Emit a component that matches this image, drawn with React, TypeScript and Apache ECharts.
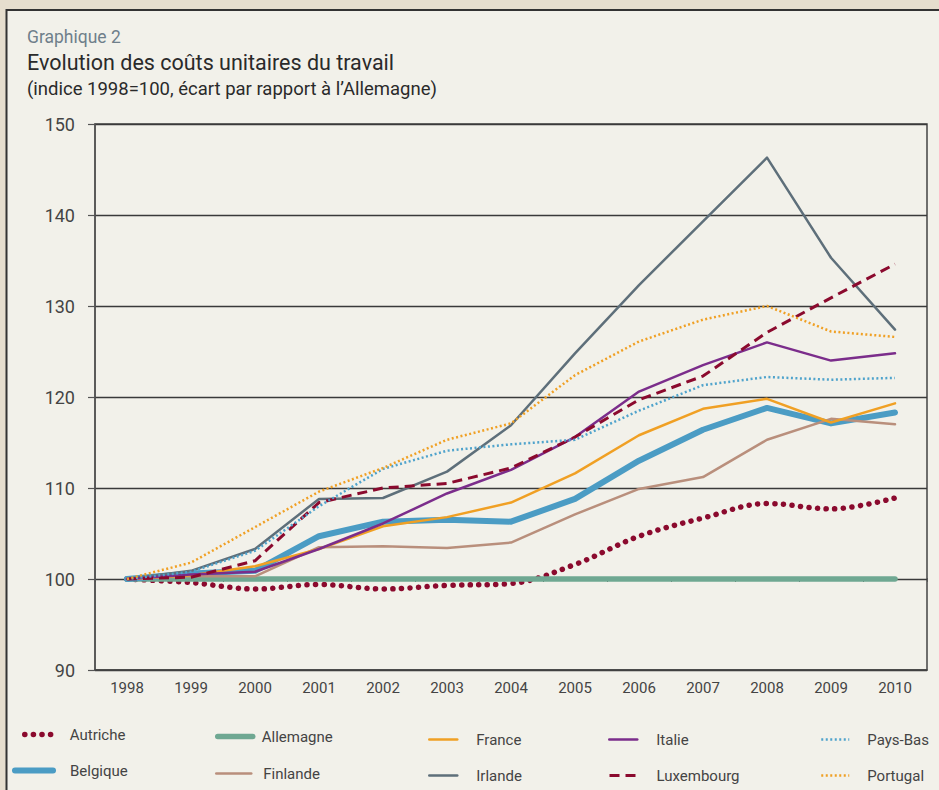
import React, { useEffect, useRef } from "react";
import * as echarts from "echarts";

const years = ["1998", "1999", "2000", "2001", "2002", "2003", "2004", "2005", "2006", "2007", "2008", "2009", "2010"];
const autriche = [100, 99.6, 98.9, 99.4, 98.9, 99.3, 99.5, 101.6, 104.7, 106.7, 108.3, 107.7, 108.9];
const allemagne = [100, 100, 100, 100, 100, 100, 100, 100, 100, 100, 100, 100, 100];
const belgique = [100, 100.6, 100.9, 104.7, 106.3, 106.5, 106.3, 108.8, 113.0, 116.4, 118.8, 117.1, 118.3];
const finlande = [100, 100.3, 100.3, 103.5, 103.6, 103.4, 104.0, 107.1, 109.9, 111.2, 115.3, 117.6, 117.0];
const france = [100, 100.4, 101.4, 103.3, 105.8, 106.8, 108.4, 111.6, 115.8, 118.7, 119.8, 117.2, 119.3];
const irlande = [100, 100.9, 103.3, 108.8, 108.9, 111.8, 116.9, 124.8, 132.3, 139.3, 146.3, 135.3, 127.4];
const italie = [100, 100.5, 100.8, 103.3, 106.1, 109.4, 112.0, 115.6, 120.6, 123.5, 126.0, 124.0, 124.8];
const luxembourg = [100, 100.2, 102.0, 108.4, 110.0, 110.5, 112.2, 115.6, 119.7, 122.3, 127.1, 130.9, 134.6];
const paysBas = [100, 100.8, 103.1, 108.0, 112.1, 114.1, 114.8, 115.3, 118.5, 121.3, 122.2, 121.9, 122.1];
const portugal = [100, 101.8, 105.7, 109.6, 112.2, 115.3, 117.1, 122.4, 126.1, 128.5, 130.0, 127.2, 126.6];

const FONT = "Roboto, 'DejaVu Sans', sans-serif";

export default function App() {
  const ref = useRef<HTMLDivElement>(null);

  useEffect(() => {
    if (!ref.current) return;
    const chart = echarts.init(ref.current, null, { renderer: "svg" });

    const mk = (name: string, data: number[], color: string, width: number, type: any, extra: any = {}) => ({
      name,
      type: "line",
      data,
      xAxisIndex: 0,
      yAxisIndex: 0,
      showSymbol: false,
      symbol: "none",
      lineStyle: { color, width, type, cap: "round", join: "round", ...(extra.lineStyle || {}) },
      itemStyle: { color },
      smooth: extra.smooth || false,
      z: extra.z || 2,
    });

    const series = [
      mk("Autriche", autriche, "#8b0a2e", 5.5, [0.1, 8.5], { smooth: 0.35 }),
      mk("Allemagne", allemagne, "#6fa892", 5.5, "solid"),
      mk("Belgique", belgique, "#4b9cc4", 6, "solid"),
      mk("Finlande", finlande, "#b98f7c", 2.5, "solid"),
      mk("France", france, "#f0a024", 2.5, "solid"),
      mk("Irlande", irlande, "#5e6f7a", 2.5, "solid"),
      mk("Italie", italie, "#7b2d8b", 2.5, "solid"),
      mk("Luxembourg", luxembourg, "#8b0a2e", 3, [10, 6], { lineStyle: { cap: "butt" } }),
      mk("Pays-Bas", paysBas, "#4fa3cc", 2.5, [2, 2.5], { lineStyle: { cap: "butt" } }),
      mk("Portugal", portugal, "#f0a024", 2.5, [2, 2.5], { lineStyle: { cap: "butt" } }),
    ];

    const legendPos: [string, number, number, number, number][] = [
      ["Autriche", 22, 736, 28, 67],
      ["Belgique", 12, 772, 38, 67],
      ["Allemagne", 215, 738, 35, 259],
      ["Finlande", 215, 775, 35, 262],
      ["France", 428, 741, 28, 475],
      ["Irlande", 428, 777, 28, 475],
      ["Italie", 608, 741, 28, 655],
      ["Luxembourg", 608, 777, 28, 655],
      ["Pays-Bas", 820, 741, 28, 866],
      ["Portugal", 820, 777, 28, 866],
    ];

    const legends = legendPos.map(([name, x, cy, w, textStart]) => ({
      show: true,
      data: [name],
      left: x,
      top: cy - 9,
      itemWidth: w,
      itemHeight: 14,
      padding: 0,
      selectedMode: false,
      itemStyle: { opacity: 0 },
      lineStyle: { width: "inherit", type: "inherit", cap: "inherit" },
      textStyle: {
        fontFamily: FONT,
        fontSize: 15,
        color: "#444",
        padding: [0, 0, 0, Math.max(0, textStart - (x + w + 5))],
      },
    }));

    const option: any = {
      animation: false,
      backgroundColor: "#e6dece",
      graphic: [
        {
          type: "rect",
          shape: { x: 6.5, y: 10, width: 960, height: 800 },
          style: { fill: "#f2f1ea", stroke: "#333", lineWidth: 2 },
          z: -10,
          silent: true,
        },
        {
          type: "text",
          x: 27,
          y: 37,
          style: { text: "Graphique 2", font: `17.5px ${FONT}`, fill: "#6f7f8a", verticalAlign: "middle" },
        },
        {
          type: "text",
          x: 27,
          y: 62,
          style: { text: "Evolution des coûts unitaires du travail", font: `21.5px ${FONT}`, fill: "#2a2a2a", verticalAlign: "middle" },
        },
        {
          type: "text",
          x: 27,
          y: 89,
          style: { text: "(indice 1998=100, écart par rapport à l’Allemagne)", font: `18.5px ${FONT}`, fill: "#2a2a2a", verticalAlign: "middle" },
        },
      ],
      legend: legends,
      grid: [
        { left: 95, right: 12, top: 124, bottom: 120, show: true, borderColor: "#444", borderWidth: 1.5, backgroundColor: "transparent" },
        { left: 95, right: 12, top: 124, height: 454, show: false },
      ],
      xAxis: [
        {
          type: "category",
          data: years,
          gridIndex: 0,
          boundaryGap: true,
          axisLine: { show: true, lineStyle: { color: "#444", width: 1.5 } },
          axisTick: { show: false },
          axisLabel: { fontFamily: FONT, fontSize: 15, color: "#444", margin: 10 },
          splitLine: { show: false },
        },
        {
          type: "category",
          data: years,
          gridIndex: 1,
          boundaryGap: true,
          axisLine: { show: false },
          axisTick: { show: true, length: 4, lineStyle: { color: "#555", width: 1 } },
          axisLabel: { show: false },
          splitLine: { show: false },
        },
      ],
      yAxis: [
        {
          type: "value",
          gridIndex: 0,
          min: 90,
          max: 150,
          interval: 10,
          axisLine: { show: true, lineStyle: { color: "#555", width: 1.5 } },
          axisTick: { show: true, length: 7, lineStyle: { color: "#555", width: 1.2 } },
          axisLabel: { fontFamily: FONT, fontSize: 18, color: "#444", margin: 20 },
          splitLine: { show: true, lineStyle: { color: "#3a3a3a", width: 1.4 } },
        },
        {
          type: "value",
          gridIndex: 1,
          min: 100,
          max: 150,
          show: false,
        },
      ],
      series,
    };

    chart.setOption(option);
    return () => chart.dispose();
  }, []);

  return (
    <div
      ref={ref}
      style={{ position: "absolute", left: 0, top: 0, width: 939, height: 790 }}
    />
  );
}
